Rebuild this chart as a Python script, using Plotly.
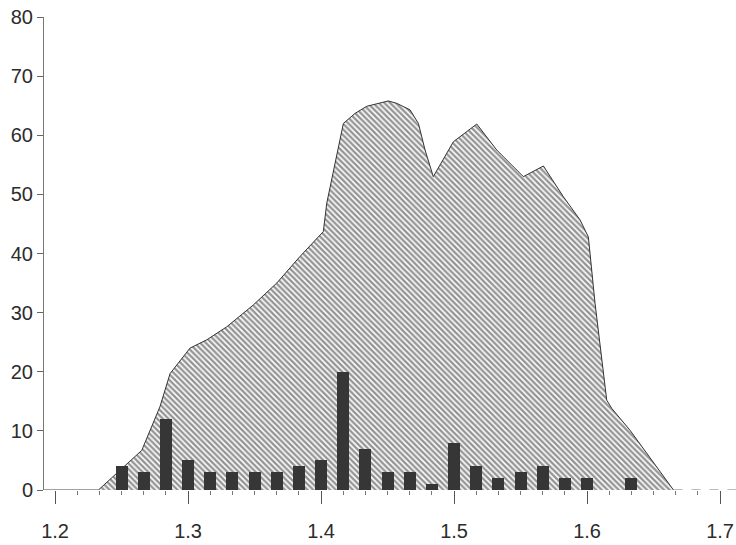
import plotly.graph_objects as go

# Frequency polygon (envelope) of the full sample
envelope_x = [1.2326, 1.2652, 1.2789, 1.2865, 1.3015, 1.3141, 1.3291, 1.3491,
              1.3667, 1.3842, 1.4017, 1.4043, 1.4168, 1.4256, 1.4344, 1.4506,
              1.4569, 1.4669, 1.4732, 1.4782, 1.4844, 1.4995, 1.5171, 1.5321,
              1.5521, 1.5672, 1.5822, 1.5947, 1.6010, 1.6060, 1.6148, 1.6186,
              1.6323, 1.6650]
envelope_y = [0, 6.7, 14.1, 19.7, 24.0, 25.4, 27.6, 31.3,
              35.0, 39.5, 43.7, 48.5, 62.0, 63.7, 64.9, 65.8,
              65.4, 64.3, 62.0, 57.5, 53.0, 58.9, 61.9, 57.5,
              53.0, 54.8, 49.6, 45.7, 42.8, 31.6, 15.2, 13.8,
              10.1, 0]

# Histogram of the sub-sample (bin centres and counts)
bin_centres = [1.2500, 1.2667, 1.2833, 1.3000, 1.3167, 1.3333, 1.3500, 1.3667,
               1.3833, 1.4000, 1.4167, 1.4333, 1.4500, 1.4667, 1.4833, 1.5000,
               1.5167, 1.5333, 1.5500, 1.5667, 1.5833, 1.6000, 1.6167, 1.6333]
bin_counts = [4, 3, 12, 5, 3, 3, 3, 3,
              4, 5, 20, 7, 3, 3, 1, 8,
              4, 2, 3, 4, 2, 2, 0, 2]

# Zero baseline outside the envelope
base_left_x = [1.1917, 1.2326]
base_right_x = [1.6650, 1.7120]
base_y = [0, 0]

x_ticks = [1.2, 1.3, 1.4, 1.5, 1.6, 1.7]
y_ticks = [0, 10, 20, 30, 40, 50, 60, 70, 80]

X_RANGE = [1.1917, 1.7120]
Y_RANGE = [0, 80]

fig = go.Figure()

fig.add_trace(go.Scatter(
    x=envelope_x, y=envelope_y, mode="lines",
    line=dict(color="#333333", width=1),
    fill="tozeroy", fillcolor="white",
    fillpattern=dict(shape="\\", size=4, solidity=0.6,
                     fgcolor="#2a2a2a", bgcolor="white"),
    hoverinfo="skip", showlegend=False,
))

fig.add_trace(go.Scatter(
    x=base_left_x, y=base_y, mode="lines",
    line=dict(color="#444444", width=1.2), showlegend=False, hoverinfo="skip",
))
fig.add_trace(go.Scatter(
    x=base_right_x, y=base_y, mode="lines",
    line=dict(color="#777777", width=1, dash="dash"), showlegend=False,
    hoverinfo="skip",
))

# Bars live on an overlaying axis pair so they are drawn above the hatched area
fig.add_trace(go.Bar(
    x=bin_centres, y=bin_counts, width=0.009,
    marker=dict(color="#363636", line=dict(width=0)),
    xaxis="x2", yaxis="y2",
    showlegend=False, hoverinfo="skip",
))

font = dict(family="Liberation Sans, Arial, sans-serif", size=20, color="#2c2c2c")

fig.update_layout(
    width=736, height=545,
    margin=dict(l=44, r=0, t=17, b=55),
    paper_bgcolor="white", plot_bgcolor="white",
    font=font, bargap=0,
    xaxis=dict(
        range=X_RANGE, automargin=False,
        tickvals=x_ticks, ticktext=[f"{v:.1f}" for v in x_ticks],
        ticks="outside", ticklen=13, tickwidth=1, tickcolor="#555555",
        showline=False, showgrid=False, zeroline=False,
        ticklabelstandoff=10, tickfont=font,
        minor=dict(dtick=1 / 60, tick0=1.2, ticks="outside", ticklen=4,
                   tickwidth=1, tickcolor="#777777", showgrid=False),
    ),
    yaxis=dict(
        range=Y_RANGE, automargin=False,
        tickvals=y_ticks,
        ticks="outside", ticklen=6, tickwidth=1, tickcolor="#666666",
        showline=True, linecolor="#777777", linewidth=1,
        showgrid=False, zeroline=False, tickfont=font,
    ),
    xaxis2=dict(range=X_RANGE, overlaying="x", visible=False),
    yaxis2=dict(range=Y_RANGE, overlaying="y", visible=False),
)

fig.write_html("out.html")
